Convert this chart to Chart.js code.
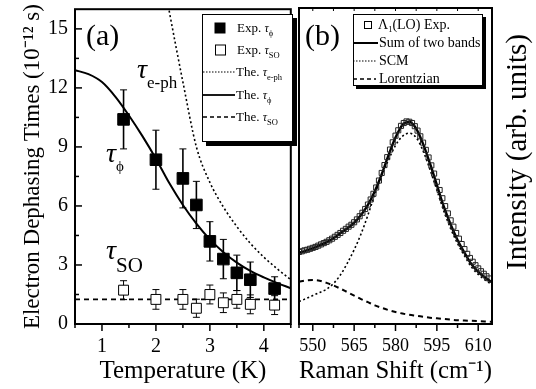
<!DOCTYPE html>
<html>
<head>
<meta charset="utf-8">
<script src="https://cdn.jsdelivr.net/npm/chart.js@4.4.1/dist/chart.umd.min.js"></script>
<style>
  html, body { margin: 0; padding: 0; background: #fff; }
  #wrap { position: relative; width: 536px; height: 389px; overflow: hidden; }
  #chartA { position: absolute; left: 0; top: 0; }
  #chartB { position: absolute; left: 290px; top: 0; }
</style>
</head>
<body>
<div id="wrap">
  <canvas id="chartA" width="300" height="389"></canvas>
  <canvas id="chartB" width="246" height="389"></canvas>
</div>
<script>
// ---- panel (a): dephasing times vs temperature ----
const tempExp    = [1.4, 2.0, 2.5, 2.75, 3.0, 3.25, 3.5, 3.75, 4.2];
const tauPhiExp  = [10.4, 8.35, 7.4, 6.05, 4.2, 3.3, 2.6, 2.25, 1.8];
const tauPhiErr  = [1.5, 1.5, 1.5, 1.2, 1.0, 1.0, 0.9, 0.9, 0.6];
const tauSoExp   = [1.72, 1.25, 1.25, 0.8, 1.5, 1.08, 1.25, 1.0, 0.96];
const tauSoErr   = [0.48, 0.5, 0.5, 0.46, 0.48, 0.5, 0.45, 0.48, 0.48];

const tempTheory   = [0.5, 0.75, 1.0, 1.25, 1.5, 1.75, 2.0, 2.25, 2.5, 2.75, 3.0, 3.25, 3.5, 3.75, 4.0, 4.25, 4.5];
const tauPhiTheory = [12.9, 12.7, 12.3, 11.55, 10.6, 9.55, 8.4, 7.15, 6.05, 5.1, 4.3, 3.65, 3.12, 2.7, 2.37, 2.08, 1.82];
const tempEph      = [2.2, 2.25, 2.5, 2.75, 3.0, 3.25, 3.5, 3.75, 4.0, 4.25, 4.5];
const tauEphTheory = [16.6, 15.85, 12.3, 9.0, 7.2, 5.95, 4.95, 4.1, 3.4, 2.8, 2.25];
const tempSo       = [0.5, 4.5];
const tauSoTheory  = [1.25, 1.25];

const tempTicks  = [1, 2, 3, 4];
const tempMinor  = [0.5, 1.5, 2.5, 3.5, 4.5];
const tauTicks   = [0, 3, 6, 9, 12, 15];
const tauMinor   = [1.5, 4.5, 7.5, 10.5, 13.5];

// ---- panel (b): Raman spectrum ----
const ramanExp = [545, 546, 547, 548, 549, 550, 551, 552, 553, 554, 555, 556, 557, 558, 559,
  560, 561, 562, 563, 564, 565, 566, 567, 568, 569, 570, 571, 572, 573, 574, 575, 576, 577, 578, 579,
  580, 581, 582, 583, 584, 585, 586, 587, 588, 589, 590, 591, 592, 593, 594, 595, 596, 597, 598, 599,
  600, 601, 602, 603, 604, 605, 606, 607, 608, 609, 610, 611, 612, 613, 614];
const intensityExp = [0.228, 0.230, 0.233, 0.235, 0.238, 0.241, 0.244, 0.248, 0.252, 0.256, 0.260, 0.265, 0.270, 0.276, 0.282,
  0.288, 0.295, 0.301, 0.308, 0.314, 0.322, 0.331, 0.341, 0.352, 0.364, 0.378, 0.394, 0.412, 0.432, 0.454, 0.478, 0.503, 0.528, 0.552, 0.575,
  0.596, 0.613, 0.627, 0.636, 0.641, 0.640, 0.636, 0.626, 0.612, 0.594, 0.574, 0.551, 0.527, 0.502, 0.476, 0.450, 0.424, 0.398, 0.373, 0.350,
  0.328, 0.308, 0.288, 0.270, 0.253, 0.237, 0.222, 0.209, 0.197, 0.186, 0.176, 0.167, 0.159, 0.151, 0.144];

const ramanFit = [545, 547.5, 550, 552.5, 555, 557.5, 560, 562.5, 565, 567.5, 570, 572.5, 575, 577.5, 580,
  582.5, 585, 587.5, 590, 592.5, 595, 597.5, 600, 602.5, 605, 607.5, 610, 612.5, 615];
const sumBands = [0.225, 0.232, 0.240, 0.249, 0.259, 0.271, 0.287, 0.302, 0.320, 0.345, 0.377, 0.420, 0.474, 0.535, 0.590,
  0.630, 0.640, 0.618, 0.570, 0.508, 0.440, 0.372, 0.315, 0.266, 0.226, 0.190, 0.165, 0.147, 0.132];
const scmBand = [0.071, 0.080, 0.090, 0.100, 0.110, 0.128, 0.155, 0.192, 0.235, 0.285, 0.345, 0.410, 0.470, 0.520, 0.565,
  0.594, 0.604, 0.590, 0.548, 0.489, 0.424, 0.358, 0.302, 0.255, 0.216, 0.181, 0.157, 0.139, 0.125];
const lorentzBand = [0.134, 0.138, 0.139, 0.137, 0.130, 0.122, 0.112, 0.101, 0.090, 0.079, 0.069, 0.059, 0.051, 0.044, 0.038,
  0.033, 0.029, 0.026, 0.023, 0.020, 0.018, 0.016, 0.014, 0.012, 0.011, 0.010, 0.009, 0.008, 0.007];

const ramanTicks = [550, 565, 580, 595, 610];
const ramanMinor = [545, 557.5, 572.5, 587.5, 602.5];

const serif = "'Liberation Serif', 'Times New Roman', serif";
const xy = (xs, ys) => xs.map((x, i) => ({ x: x, y: ys[i] }));

function line(ctx, x1, y1, x2, y2, w, dash) {
  ctx.save();
  ctx.lineWidth = w;
  ctx.setLineDash(dash || []);
  ctx.beginPath();
  ctx.moveTo(x1, y1);
  ctx.lineTo(x2, y2);
  ctx.stroke();
  ctx.restore();
}

// draws text pieces one after another: [text, font, dy]
function runs(ctx, x, y, parts) {
  parts.forEach(p => {
    ctx.font = p[1];
    ctx.fillText(p[0], x, y + (p[2] || 0));
    x += ctx.measureText(p[0]).width;
  });
  return x;
}

function legendBox(ctx, x, y, w, h, sh) {
  ctx.fillStyle = '#000';
  ctx.fillRect(x + sh, y + sh, w, h);
  ctx.fillStyle = '#fff';
  ctx.fillRect(x, y, w, h);
  ctx.lineWidth = 1;
  ctx.strokeRect(x + 0.5, y + 0.5, w - 1, h - 1);
  ctx.fillStyle = '#000';
}

function noPad(s) { s.paddingTop = 0; s.paddingBottom = 0; s.paddingLeft = 0; s.paddingRight = 0; }

const errorBars = {
  id: 'errorBars',
  beforeDatasetsDraw(chart) {
    const { ctx, scales: { x, y } } = chart;
    ctx.save();
    ctx.strokeStyle = '#000';
    chart.data.datasets.forEach(ds => {
      if (!ds.errorBars) return;
      ds.data.forEach((p, j) => {
        const px = x.getPixelForValue(p.x);
        const top = y.getPixelForValue(p.y + ds.errorBars[j]);
        const bot = y.getPixelForValue(p.y - ds.errorBars[j]);
        line(ctx, px, top, px, bot, ds.errorWidth);
        line(ctx, px - 3.5, top, px + 3.5, top, 1);
        line(ctx, px - 3.5, bot, px + 3.5, bot, 1);
      });
    });
    ctx.restore();
  }
};

const decorA = {
  id: 'decorA',
  afterDatasetsDraw(chart) {
    const { ctx, chartArea: a, scales: { x, y } } = chart;
    ctx.save();
    ctx.strokeStyle = '#000';
    ctx.fillStyle = '#000';
    ctx.textBaseline = 'alphabetic';

    // ticks: bottom outward, left inward
    tempTicks.forEach(v => { const p = x.getPixelForValue(v); line(ctx, p, a.bottom, p, a.bottom + 7, 1.5); });
    tempMinor.forEach(v => { const p = x.getPixelForValue(v); line(ctx, p, a.bottom, p, a.bottom + 4, 1.5); });
    tauTicks.forEach(v => { const p = y.getPixelForValue(v); line(ctx, a.left, p, a.left + 7, p, 1.5); });
    tauMinor.forEach(v => { const p = y.getPixelForValue(v); line(ctx, a.left, p, a.left + 4, p, 1.5); });

    ctx.lineWidth = 2;
    ctx.strokeRect(a.left, a.top, a.right - a.left, a.bottom - a.top);

    // panel label and curve labels
    ctx.font = '30px ' + serif;
    ctx.fillText('(a)', 86, 45);
    runs(ctx, 137, 78, [['τ', 'italic 28px ' + serif], ['e-ph', '17px ' + serif, 10]]);
    runs(ctx, 106, 162, [['τ', 'italic 28px ' + serif], ['ϕ', '15px ' + serif, 9]]);
    runs(ctx, 106, 259, [['τ', 'italic 28px ' + serif], ['SO', '21px ' + serif, 13]]);

    // legend
    legendBox(ctx, 202, 14, 91, 128, 4);
    const rows = [28, 50, 72, 95, 117];
    ctx.fillRect(214.5, rows[0] - 5.5, 11, 11);
    ctx.lineWidth = 1;
    ctx.strokeRect(215.5, rows[1] - 5, 10, 10);
    line(ctx, 203, rows[2], 235, rows[2], 1.2, [1.5, 1.5]);
    line(ctx, 203, rows[3], 235, rows[3], 1.8);
    line(ctx, 203, rows[4], 235, rows[4], 1.5, [4, 3]);
    const f = '13px ' + serif, ti = 'italic 12px ' + serif, sb = '8.5px ' + serif;
    runs(ctx, 237, rows[0] + 4, [['Exp. ', f], ['τ', ti], ['ϕ', sb, 4]]);
    runs(ctx, 237, rows[1] + 4, [['Exp. ', f], ['τ', ti], ['SO', sb, 4]]);
    runs(ctx, 236, rows[2] + 4, [['The. ', f], ['τ', ti], ['e-ph', sb, 4]]);
    runs(ctx, 236, rows[3] + 4, [['The. ', f], ['τ', ti], ['ϕ', sb, 4]]);
    runs(ctx, 236, rows[4] + 4, [['The. ', f], ['τ', ti], ['SO', sb, 4]]);
    ctx.restore();
  }
};

const decorB = {
  id: 'decorB',
  afterDatasetsDraw(chart) {
    const { ctx, chartArea: a, scales: { x } } = chart;
    ctx.save();
    ctx.strokeStyle = '#000';
    ctx.fillStyle = '#000';

    ramanTicks.forEach(v => {
      const p = x.getPixelForValue(v);
      line(ctx, p, a.bottom, p, a.bottom + 7, 1.5);
      line(ctx, p, a.top, p, a.top + 3, 1);
    });
    ramanMinor.forEach(v => {
      const p = x.getPixelForValue(v);
      line(ctx, p, a.bottom, p, a.bottom + 4, 1.5);
      line(ctx, p, a.top, p, a.top + 3, 1);
    });

    ctx.lineWidth = 2;
    ctx.strokeRect(a.left, a.top, a.right - a.left, a.bottom - a.top);

    ctx.font = '30px ' + serif;
    ctx.fillText('(b)', 15, 45);

    // legend
    legendBox(ctx, 63, 14, 130, 72, 3);
    const rows = [25, 43, 61, 79];
    ctx.lineWidth = 1;
    ctx.strokeRect(74.5, rows[0] - 3.5, 7, 7);
    line(ctx, 63, rows[1], 88, rows[1], 2);
    line(ctx, 63, rows[2], 86, rows[2], 1.2, [1.5, 1.5]);
    line(ctx, 63, rows[3], 86, rows[3], 1.6, [4, 3]);
    const f = '14px ' + serif;
    runs(ctx, 88, rows[0] + 4, [['Λ', f], ['1', '8.5px ' + serif, 3], ['(LO) Exp.', f]]);
    runs(ctx, 89, rows[1] + 4, [['Sum of two bands', f]]);
    runs(ctx, 89, rows[2] + 4, [['SCM', f]]);
    runs(ctx, 89, rows[3] + 4, [['Lorentzian', f]]);

    // right-hand axis title, reading bottom to top
    ctx.translate(228, 152);
    ctx.rotate(-Math.PI / 2);
    ctx.textAlign = 'center';
    ctx.textBaseline = 'middle';
    ctx.font = '29px ' + serif;
    ctx.fillText('Intensity (arb. units)', 0, 0);
    ctx.restore();
  }
};

Chart.defaults.font.family = serif;
Chart.defaults.color = '#000';

new Chart(document.getElementById('chartA'), {
  type: 'scatter',
  data: {
    datasets: [
      { label: 'Exp. τφ', data: xy(tempExp, tauPhiExp), errorBars: tauPhiErr, errorWidth: 1.6,
        pointStyle: 'rect', pointRadius: 8.2, backgroundColor: '#000', borderColor: '#000', borderWidth: 1, showLine: false },
      { label: 'Exp. τSO', data: xy(tempExp, tauSoExp), errorBars: tauSoErr, errorWidth: 1,
        pointStyle: 'rect', pointRadius: 7, backgroundColor: '#fff', borderColor: '#000', borderWidth: 1, showLine: false },
      { label: 'The. τe-ph', data: xy(tempEph, tauEphTheory), showLine: true, pointRadius: 0,
        borderColor: '#000', borderWidth: 1.6, borderDash: [2, 2.5], cubicInterpolationMode: 'monotone' },
      { label: 'The. τφ', data: xy(tempTheory, tauPhiTheory), showLine: true, pointRadius: 0,
        borderColor: '#000', borderWidth: 2, cubicInterpolationMode: 'monotone' },
      { label: 'The. τSO', data: xy(tempSo, tauSoTheory), showLine: true, pointRadius: 0,
        borderColor: '#000', borderWidth: 1.6, borderDash: [5, 4] }
    ]
  },
  options: {
    responsive: false,
    animation: false,
    layout: { padding: { top: 8, right: 1, left: 0, bottom: 0 } },
    plugins: { legend: { display: false }, tooltip: { enabled: false } },
    scales: {
      x: {
        type: 'linear', min: 0.5, max: 4.5,
        afterBuildTicks: s => { s.ticks = tempTicks.map(v => ({ value: v })); },
        afterFit: s => { s.height = 65; noPad(s); },
        grid: { display: false, drawTicks: false },
        border: { display: false },
        ticks: { padding: 11, maxRotation: 0, autoSkip: false, font: { size: 20 } },
        title: { display: true, text: 'Temperature (K)', font: { size: 25 }, padding: { top: 0, bottom: 3 } }
      },
      y: {
        min: 0, max: 16,
        afterBuildTicks: s => { s.ticks = tauTicks.map(v => ({ value: v })); },
        afterFit: s => { s.width = 75; noPad(s); },
        grid: { display: false, drawTicks: false },
        border: { display: false },
        ticks: { padding: 7, autoSkip: false, font: { size: 20 } },
        title: { display: true, text: 'Electron Dephasing Times (10⁻¹² s)', font: { size: 23 }, padding: { top: 19, bottom: 0 } }
      }
    }
  },
  plugins: [errorBars, decorA]
});

new Chart(document.getElementById('chartB'), {
  type: 'scatter',
  data: {
    datasets: [
      { label: 'A1(LO) Exp.', data: xy(ramanExp, intensityExp), showLine: false,
        pointStyle: 'rect', pointRadius: 3.6, backgroundColor: 'rgba(255,255,255,0)', borderColor: '#222', borderWidth: 1 },
      { label: 'Sum of two bands', data: xy(ramanFit, sumBands), showLine: true, pointRadius: 0,
        borderColor: '#000', borderWidth: 2.4, cubicInterpolationMode: 'monotone' },
      { label: 'SCM', data: xy(ramanFit, scmBand), showLine: true, pointRadius: 0,
        borderColor: '#000', borderWidth: 1.6, borderDash: [2, 2.5], cubicInterpolationMode: 'monotone' },
      { label: 'Lorentzian', data: xy(ramanFit, lorentzBand), showLine: true, pointRadius: 0,
        borderColor: '#000', borderWidth: 2, borderDash: [5, 4], cubicInterpolationMode: 'monotone' }
    ]
  },
  options: {
    responsive: false,
    animation: false,
    layout: { padding: { top: 8, right: 0, left: 9, bottom: 0 } },
    plugins: { legend: { display: false }, tooltip: { enabled: false } },
    scales: {
      x: {
        type: 'linear', min: 545, max: 615,
        afterBuildTicks: s => { s.ticks = ramanTicks.map(v => ({ value: v })); },
        afterFit: s => { s.height = 65; noPad(s); },
        grid: { display: false, drawTicks: false },
        border: { display: false },
        ticks: { padding: 11, maxRotation: 0, autoSkip: false, font: { size: 18 } },
        title: { display: true, text: 'Raman Shift (cm⁻¹)', font: { size: 25 }, padding: { top: 0, bottom: 3 } }
      },
      y: {
        position: 'right', min: 0, max: 1,
        afterFit: s => { s.width = 44; noPad(s); },
        grid: { display: false, drawTicks: false },
        border: { display: false },
        ticks: { display: false }
      }
    }
  },
  plugins: [decorB]
});
</script>
</body>
</html>
